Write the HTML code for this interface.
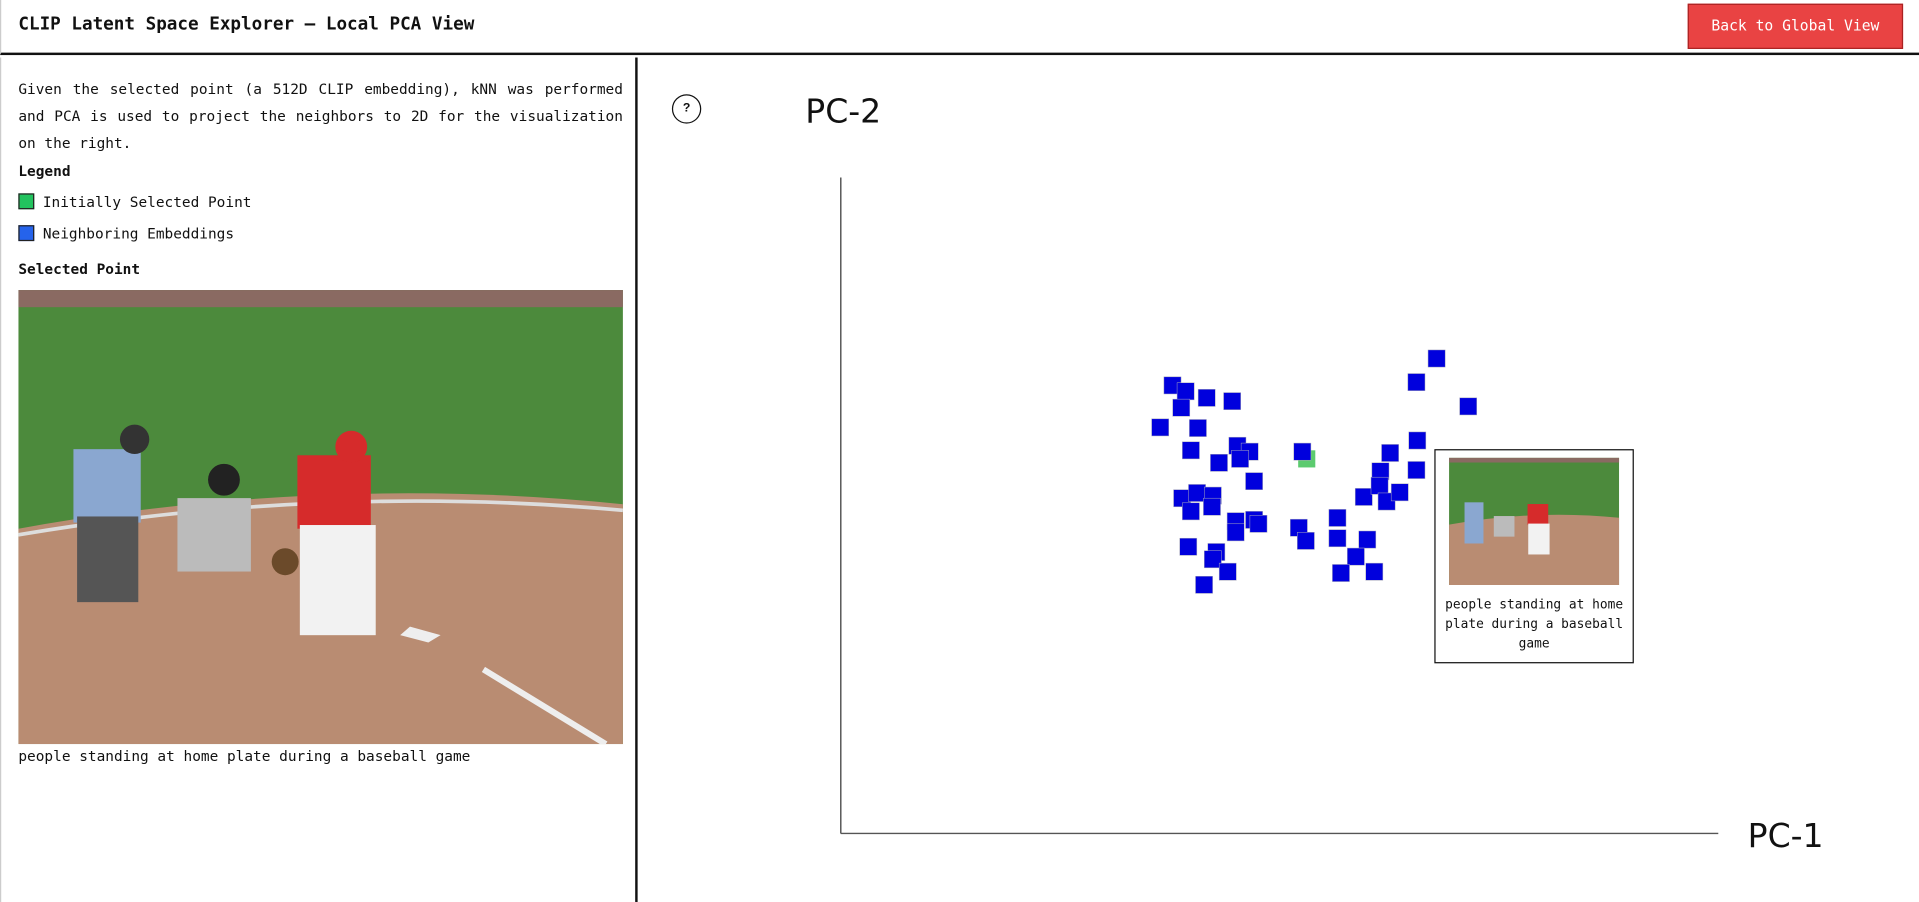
<!DOCTYPE html>
<html><head><meta charset="utf-8">
<style>
html,body{margin:0;padding:0;width:1919px;height:902px;overflow:hidden;background:#fff}
#wrap{position:absolute;left:0;top:0;width:1568px;height:737px;transform:scale(1.22385);transform-origin:0 0;font-family:"DejaVu Sans Mono","Liberation Mono",monospace;color:#111}
.abs{position:absolute}
#header{left:0;top:0;width:1568px;height:45px;border-bottom:2px solid #111;border-left:1px solid #ccc;box-sizing:border-box}
#title{left:14px;top:12px;font-size:14.4px;font-weight:bold}
#back{left:1378px;top:3px;width:176px;height:37px;background:#e94343;border:1px solid #a22;box-sizing:border-box;color:#fff;font-size:12px;text-align:center;line-height:35px}
#left{left:0;top:47px;width:521px;height:690px;border-right:2px solid #111;border-left:1px solid #ccc;box-sizing:border-box}
#desc{left:14px;top:15px;width:494px;font-size:11.8px;line-height:22px;text-align:justify;text-align-last:left}
.lbl{font-size:11.8px;font-weight:bold}
.item{font-size:11.8px}
.sq{display:inline-block;width:11px;height:11px;border:1px solid #222;vertical-align:-2px;margin-right:7px}
</style></head><body>
<div id="wrap">
<div id="header" class="abs">
  <div id="title" class="abs">CLIP Latent Space Explorer — Local PCA View</div>
  <div id="back" class="abs">Back to Global View</div>
</div>
<div id="left" class="abs">
  <div id="desc" class="abs">Given the selected point (a 512D CLIP embedding), kNN was performed and PCA is used to project the neighbors to 2D for the visualization on the right.</div>
  <div class="abs lbl" style="left:14px;top:86px">Legend</div>
  <div class="abs item" style="left:14px;top:111px"><span class="sq" style="background:#22c35e"></span>Initially Selected Point</div>
  <div class="abs item" style="left:14px;top:137px"><span class="sq" style="background:#2563eb"></span>Neighboring Embeddings</div>
  <div class="abs lbl" style="left:14px;top:166px">Selected Point</div>
  <svg class="abs" style="left:14px;top:190px" width="494" height="371" viewBox="0 0 494 371">
    <rect width="494" height="371" fill="#4c8a3c"/>
    <rect width="494" height="14" fill="#8a6a62"/>
    <path d="M0,195 Q250,150 494,175 L494,371 L0,371Z" fill="#b98c72"/>
    <path d="M0,200 Q250,158 494,180" stroke="#ddd" stroke-width="3" fill="none"/>
    <path d="M380,310 L480,371" stroke="#eee" stroke-width="5"/>
    <path d="M320,275 L345,282 L335,288 L312,282Z" fill="#eee"/>
    <rect x="45" y="130" width="55" height="60" fill="#8aa7d0"/><rect x="48" y="185" width="50" height="70" fill="#555"/>
    <circle cx="95" cy="122" r="12" fill="#333"/>
    <rect x="130" y="170" width="60" height="60" fill="#bbb"/><circle cx="168" cy="155" r="13" fill="#222"/>
    <rect x="228" y="135" width="60" height="60" fill="#d62b2b"/><circle cx="272" cy="128" r="13" fill="#d62b2b"/>
    <rect x="230" y="192" width="62" height="90" fill="#f2f2f2"/>
    <circle cx="218" cy="222" r="11" fill="#6b4a2a"/>
  </svg>
  <div class="abs item" style="left:14px;top:564px">people standing at home plate during a baseball game</div>
</div>
<div class="abs" style="left:549px;top:77px;width:22px;height:22px;border:1.5px solid #111;border-radius:50%;text-align:center;line-height:22px;font-size:10px;font-weight:bold;font-family:'Liberation Sans',sans-serif">?</div>
<svg id="chart" class="abs" style="left:0;top:0" width="1568" height="737"></svg>
<div class="abs" style="left:1172px;top:367px;width:163px;height:175px;border:1px solid #111;box-sizing:border-box;background:#fff">
  <svg class="abs" style="left:11px;top:6px" width="139" height="104" viewBox="0 0 494 371" preserveAspectRatio="none">
    <rect width="494" height="371" fill="#4c8a3c"/><rect width="494" height="14" fill="#8a6a62"/>
    <path d="M0,195 Q250,150 494,175 L494,371 L0,371Z" fill="#b98c72"/>
    <rect x="45" y="130" width="55" height="120" fill="#8aa7d0"/><rect x="130" y="170" width="60" height="60" fill="#bbb"/>
    <rect x="228" y="135" width="60" height="60" fill="#d62b2b"/><rect x="230" y="192" width="62" height="90" fill="#f2f2f2"/>
  </svg>
  <div class="abs" style="left:4px;top:118px;width:153px;text-align:center;font-size:10.5px;line-height:16px">people standing at home plate during a baseball game</div>
</div>
</div>
<script>
const nbX=[37.8,39.3,38.8,41.7,44.6,36.4,40.7,39.9,43.1,45.2,46.6,45.5,47.1,38.9,40.6,42.4,39.9,42.3,45.0,47.1,47.6,45.0,39.6,42.8,42.4,44.1,41.4,52.6,52.2,53.0,56.6,56.6,60.0,58.7,57.0,60.8,59.6,61.5,62.6,61.4,62.2,63.7,65.7,65.6,65.6,67.9,71.5];
const nbY=[68.3,67.4,64.9,66.4,65.9,61.9,61.8,58.4,56.5,59.1,58.2,57.1,53.7,51.1,51.9,51.5,49.1,49.8,47.6,47.8,47.2,45.9,43.7,42.9,41.8,39.9,37.9,58.2,46.6,44.6,48.1,45.0,44.8,42.2,39.7,39.9,51.3,55.2,58.0,53.0,50.6,52.0,59.9,55.4,68.8,72.4,65.1];
const selX=[53.1];
const selY=[57.1];
const NS='http://www.w3.org/2000/svg';
const svg=document.getElementById('chart');
const X0=687,X1=1404,Y0=681,Y1=145;
const sx=v=>X0+(X1-X0)*v/100, sy=v=>Y0-(Y0-Y1)*v/100;
function mk(t,a){const e=document.createElementNS(NS,t);for(const k in a)e.setAttribute(k,a[k]);svg.appendChild(e);return e;}
let e=mk('line',{x1:X0,y1:Y1,x2:X0,y2:Y0,stroke:'#555','stroke-width':1.2});


e=mk('line',{x1:X0,y1:Y0,x2:X1,y2:Y0,stroke:'#555','stroke-width':1.2});


e=mk('text',{x:658,y:100,'font-size':27,'font-family':'DejaVu Sans, Liberation Sans, sans-serif',fill:'#111'});e.textContent='PC-2';


e=mk('text',{x:1428,y:692,'font-size':27,'font-family':'DejaVu Sans, Liberation Sans, sans-serif',fill:'#111'});e.textContent='PC-1';


selX.forEach((v,i)=>{const r=mk('rect',{x:sx(v)-7,y:sy(selY[i])-7,width:14,height:14,fill:'#5ccb6f'});

});
nbX.forEach((v,i)=>{const r=mk('rect',{x:sx(v)-7,y:sy(nbY[i])-7,width:14,height:14,fill:'#0000dd',stroke:'#aab','stroke-width':0.4});

});
</script>
</body></html>
